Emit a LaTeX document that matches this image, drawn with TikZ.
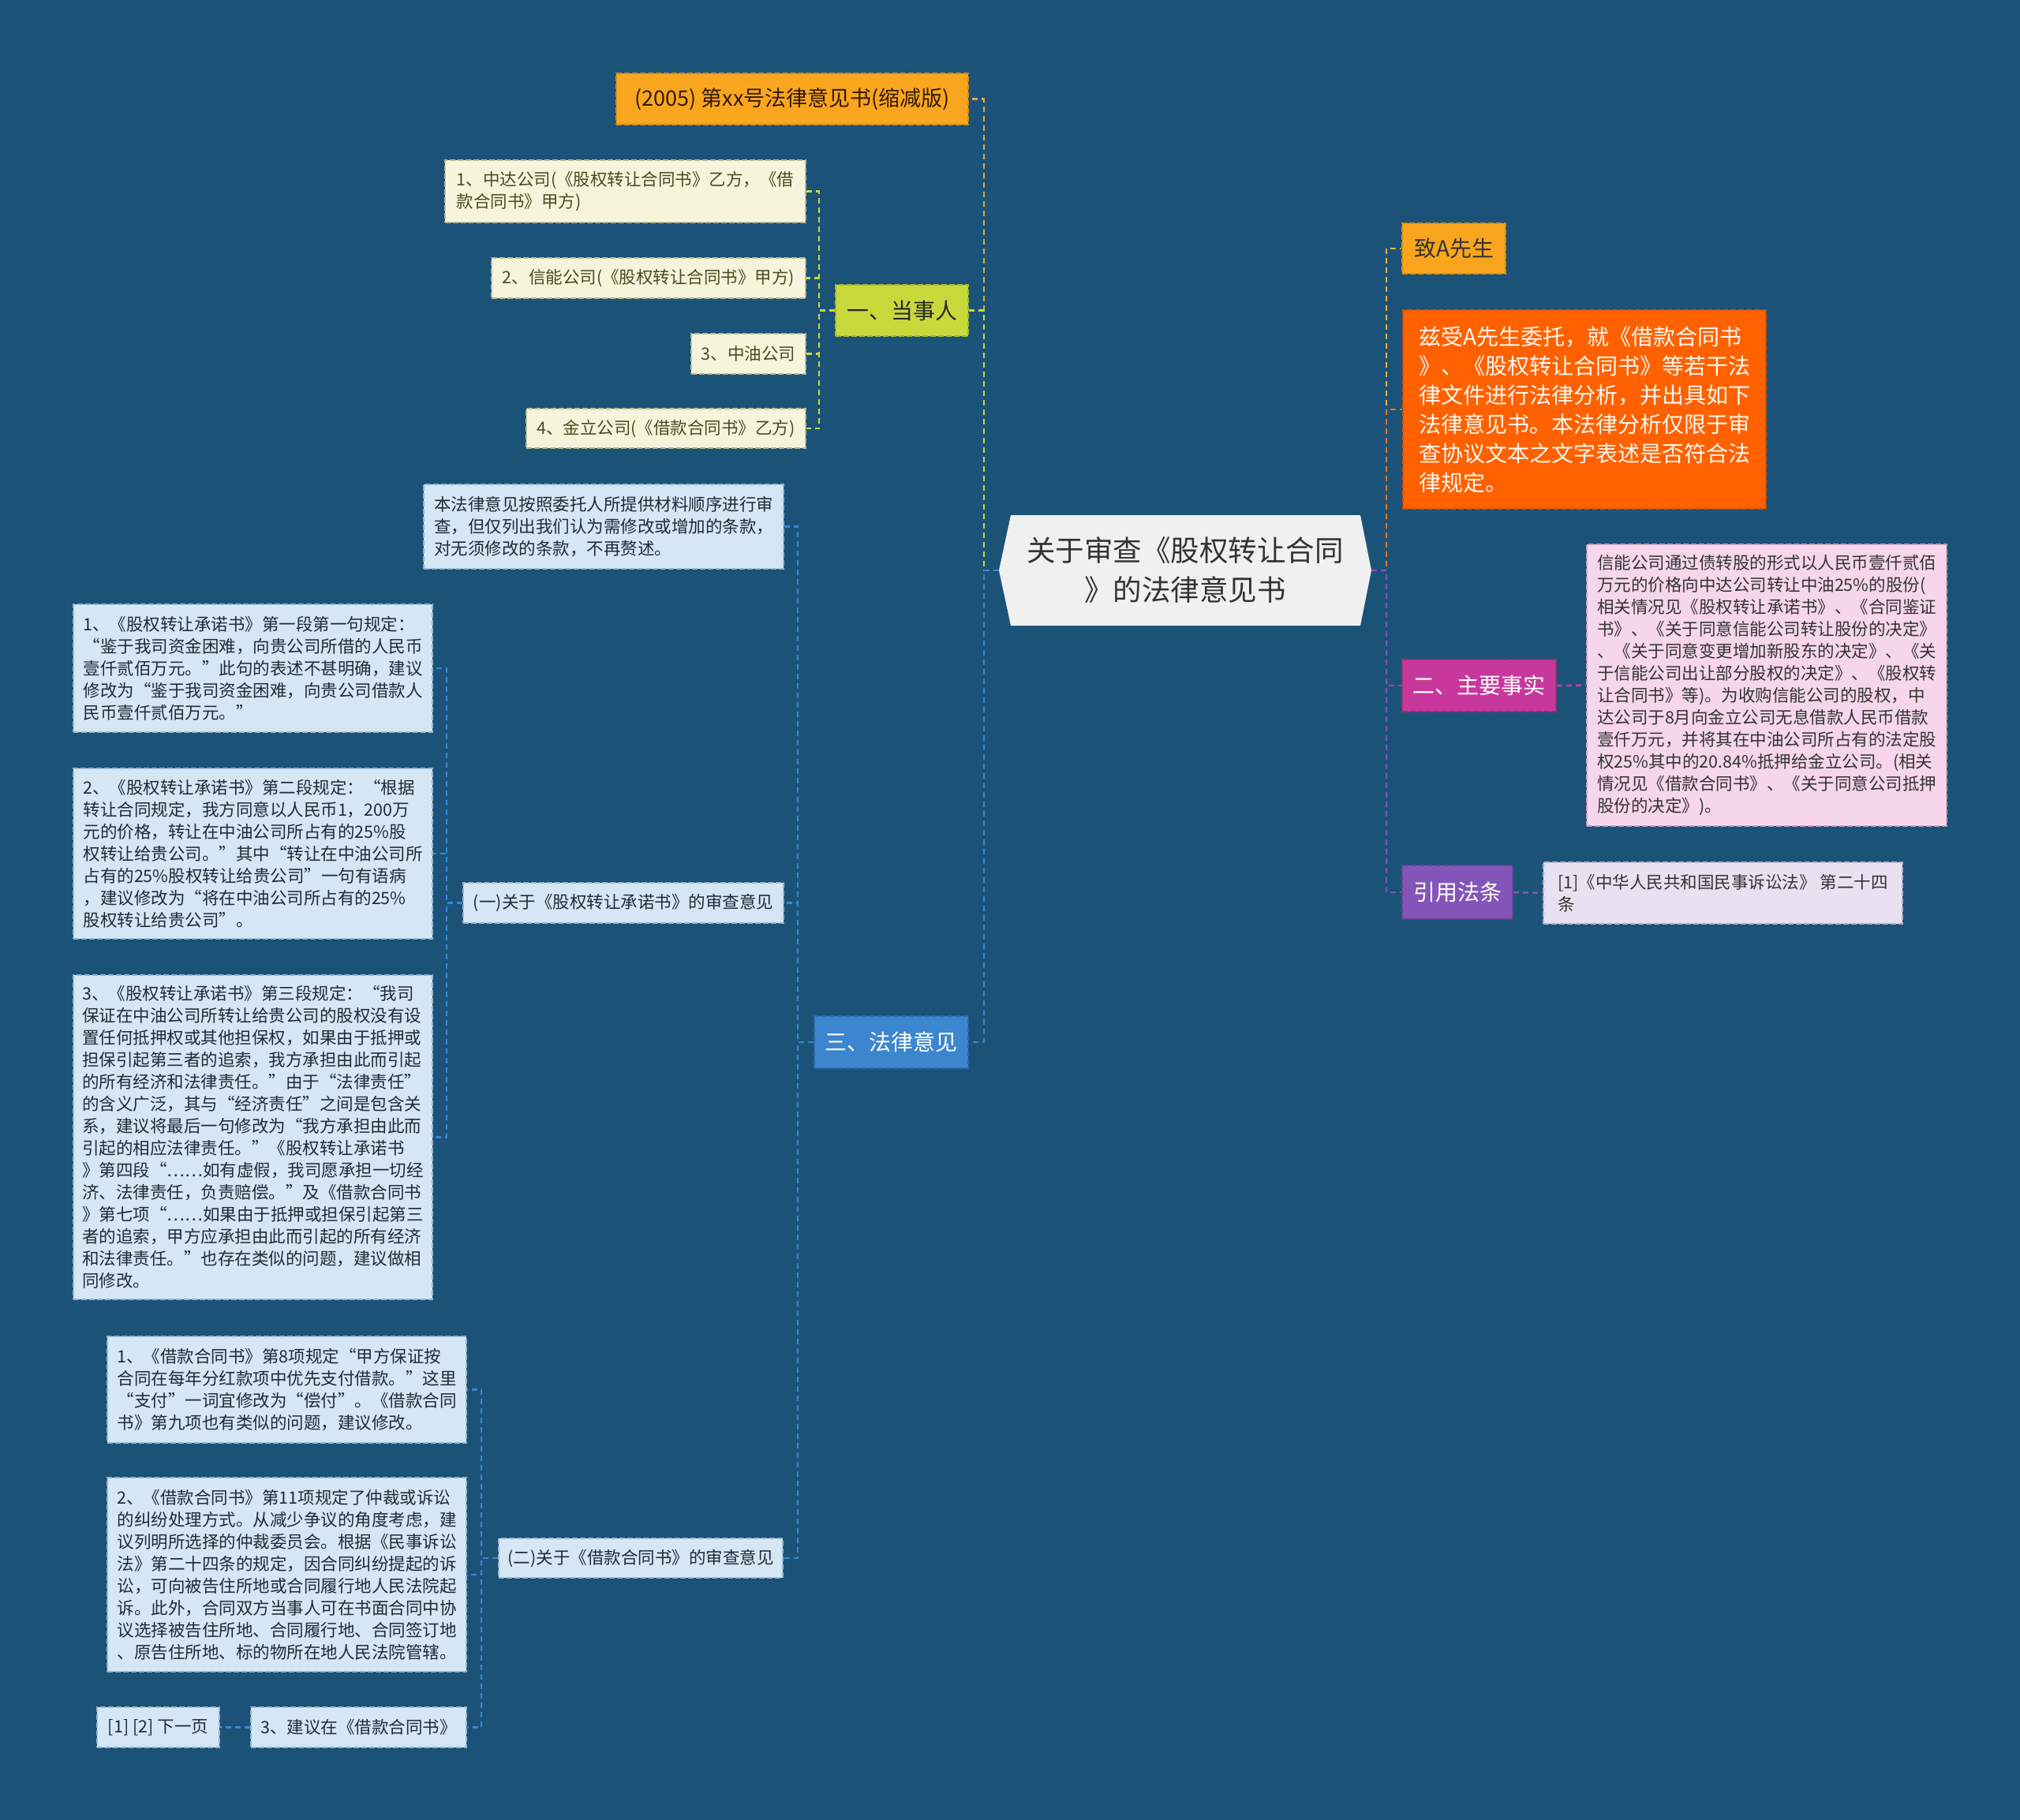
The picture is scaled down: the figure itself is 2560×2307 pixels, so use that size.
\documentclass[tikz,border=0pt]{standalone}
\usepackage{fontspec}
\setmainfont{Noto Sans CJK SC}
\usetikzlibrary{calc}
\pgfdeclarelayer{background}
\pgfsetlayers{background,main}

\definecolor{bg}{HTML}{1B5378}
\definecolor{orA}{HTML}{F9A61E}
\definecolor{orAb}{HTML}{D88A10}
\definecolor{ygr}{HTML}{C9D93B}
\definecolor{ygrb}{HTML}{A8B828}
\definecolor{cream}{HTML}{F6F5DC}
\definecolor{creamb}{HTML}{B8B890}
\definecolor{creamt}{HTML}{4A4A22}
\definecolor{blu}{HTML}{3B86CF}
\definecolor{blub}{HTML}{2A6AAA}
\definecolor{lblu}{HTML}{D5E6F5}
\definecolor{lblub}{HTML}{98B4CE}
\definecolor{lblut}{HTML}{1E2B38}
\definecolor{ctr}{HTML}{F0F0F0}
\definecolor{org}{HTML}{FF6100}
\definecolor{orgb}{HTML}{D84E00}
\definecolor{mag}{HTML}{C8389C}
\definecolor{magb}{HTML}{A02A7C}
\definecolor{pink}{HTML}{F5D6EA}
\definecolor{pinkb}{HTML}{C8A0B8}
\definecolor{pur}{HTML}{8455B8}
\definecolor{purb}{HTML}{6A4098}
\definecolor{lav}{HTML}{E9E1F1}
\definecolor{lavb}{HTML}{B8AAC8}
\definecolor{dtxt}{HTML}{333333}
\definecolor{cTitle}{HTML}{E8A53C}
\definecolor{cOne}{HTML}{C9D93B}
\definecolor{cThree}{HTML}{3B86CF}
\definecolor{cR1}{HTML}{E8B040}
\definecolor{cR2}{HTML}{E87020}
\definecolor{cR3}{HTML}{C8389C}
\definecolor{cR4}{HTML}{8455B8}

\tikzset{
  box/.style={draw, line width=1.8pt, dash pattern=on 7pt off 3pt, inner sep=0pt, align=left, anchor=center},
  small/.style={font=\fontsize{21.5}{28}\selectfont},
  big/.style={font=\fontsize{28}{37}\selectfont},
  conn/.style={line width=2.5pt, dash pattern=on 7pt off 5pt},
}

\begin{document}
\begin{tikzpicture}[x=1pt,y=-1pt]
\begin{pgfonlayer}{background}
\fill[bg] (0,0) rectangle (2560,2307);
\end{pgfonlayer}
\useasboundingbox (0,0) rectangle (2560,2307);

% root
\fill[ctr] (1266,723) -- (1281,653) -- (1724,653) -- (1738,723) -- (1724,793) -- (1281,793) -- cycle;
\node[inner sep=0pt, minimum width=472pt, minimum height=140pt, align=center, text=dtxt,
      font=\fontsize{36.5}{50}\selectfont] (root) at (1502,723) {关于审查《股权转让合同\\》的法律意见书};

% left branch: title
\node[box, fill=orA, draw=orAb, text=black!80!orange, minimum width=446pt, minimum height=65pt,
      font=\fontsize{27}{34}\selectfont] (title) at (1004,125.5) {(2005) 第xx号法律意见书(缩减版)};

% 一、当事人
\node[box, big, fill=ygr, draw=ygrb, text=black!85, minimum width=168pt, minimum height=65pt] (one) at (1143,393.5) {一、当事人};
\node[box, small, fill=cream, draw=creamb, text=creamt, minimum width=457pt, minimum height=79pt] (p1) at (792.5,242.5)
  {1、中达公司(《股权转让合同书》乙方，《借\\款合同书》甲方)};
\node[box, small, fill=cream, draw=creamb, text=creamt, minimum width=398pt, minimum height=51pt] (p2) at (822,352.5)
  {2、信能公司(《股权转让合同书》甲方)};
\node[box, small, fill=cream, draw=creamb, text=creamt, minimum width=145pt, minimum height=51pt] (p3) at (948.5,448.5)
  {3、中油公司};
\node[box, small, fill=cream, draw=creamb, text=creamt, minimum width=354pt, minimum height=50pt] (p4) at (844,543)
  {4、金立公司(《借款合同书》乙方)};

% 三、法律意见
\node[box, big, fill=blu, draw=blub, text=white, minimum width=195pt, minimum height=66pt] (three) at (1129.5,1321) {三、法律意见};
\node[box, small, fill=lblu, draw=lblub, text=lblut, minimum width=456pt, minimum height=107pt] (L1) at (765,667.5)
  {本法律意见按照委托人所提供材料顺序进行审\\查，但仅列出我们认为需修改或增加的条款，\\对无须修改的条款，不再赘述。};
\node[box, small, fill=lblu, draw=lblub, text=lblut, minimum width=406pt, minimum height=51pt] (L2) at (790,1144.5)
  {(一)关于《股权转让承诺书》的审查意见};
\node[box, small, fill=lblu, draw=lblub, text=lblut, minimum width=455pt, minimum height=162pt] (L2a) at (320.5,847)
  {1、《股权转让承诺书》第一段第一句规定：\\
   “鉴于我司资金困难，向贵公司所借的人民币\\
   壹仟贰佰万元。”此句的表述不甚明确，建议\\
   修改为“鉴于我司资金困难，向贵公司借款人\\
   民币壹仟贰佰万元。”};
\node[box, small, fill=lblu, draw=lblub, text=lblut, minimum width=455pt, minimum height=216pt] (L2b) at (320.5,1082)
  {2、《股权转让承诺书》第二段规定：“根据\\
   转让合同规定，我方同意以人民币1，200万\\
   元的价格，转让在中油公司所占有的25\%股\\
   权转让给贵公司。”其中“转让在中油公司所\\
   占有的25\%股权转让给贵公司”一句有语病\\
   ，建议修改为“将在中油公司所占有的25\%\\
   股权转让给贵公司”。};
\node[box, small, fill=lblu, draw=lblub, text=lblut, minimum width=455pt, minimum height=411pt] (L2c) at (320.5,1441.5)
  {3、《股权转让承诺书》第三段规定：“我司\\
   保证在中油公司所转让给贵公司的股权没有设\\
   置任何抵押权或其他担保权，如果由于抵押或\\
   担保引起第三者的追索，我方承担由此而引起\\
   的所有经济和法律责任。”由于“法律责任”\\
   的含义广泛，其与“经济责任”之间是包含关\\
   系，建议将最后一句修改为“我方承担由此而\\
   引起的相应法律责任。”《股权转让承诺书\\
   》第四段“……如有虚假，我司愿承担一切经\\
   济、法律责任，负责赔偿。”及《借款合同书\\
   》第七项“……如果由于抵押或担保引起第三\\
   者的追索，甲方应承担由此而引起的所有经济\\
   和法律责任。”也存在类似的问题，建议做相\\
   同修改。};
\node[box, small, fill=lblu, draw=lblub, text=lblut, minimum width=360pt, minimum height=50pt] (L3) at (812,1975)
  {(二)关于《借款合同书》的审查意见};
\node[box, small, fill=lblu, draw=lblub, text=lblut, minimum width=455pt, minimum height=135pt] (L3a) at (363.5,1761.5)
  {1、《借款合同书》第8项规定“甲方保证按\\
   合同在每年分红款项中优先支付借款。”这里\\
   “支付”一词宜修改为“偿付”。《借款合同\\
   书》第九项也有类似的问题，建议修改。};
\node[box, small, fill=lblu, draw=lblub, text=lblut, minimum width=455pt, minimum height=246pt] (L3b) at (363.5,1996)
  {2、《借款合同书》第11项规定了仲裁或诉讼\\
   的纠纷处理方式。从减少争议的角度考虑，建\\
   议列明所选择的仲裁委员会。根据《民事诉讼\\
   法》第二十四条的规定，因合同纠纷提起的诉\\
   讼，可向被告住所地或合同履行地人民法院起\\
   诉。此外，合同双方当事人可在书面合同中协\\
   议选择被告住所地、合同履行地、合同签订地\\
   、原告住所地、标的物所在地人民法院管辖。};
\node[box, small, fill=lblu, draw=lblub, text=lblut, minimum width=273pt, minimum height=51pt] (L3c) at (454.5,2189.5)
  {3、建议在《借款合同书》};
\node[box, small, fill=lblu, draw=lblub, text=lblut, minimum width=155pt, minimum height=51pt] (L3d) at (200.5,2189.5)
  {[1] [2] 下一页};

% right branches
\node[box, big, fill=orA, draw=orAb, text=dtxt, minimum width=131pt, minimum height=64pt] (r1) at (1842.5,315) {致A先生};
\node[box, big, fill=org, draw=orgb, text=white!95!orange, minimum width=460pt, minimum height=252pt] (r2) at (2008,519)
  {兹受A先生委托，就《借款合同书\\
   》、《股权转让合同书》等若干法\\
   律文件进行法律分析，并出具如下\\
   法律意见书。本法律分析仅限于审\\
   查协议文本之文字表述是否符合法\\
   律规定。};
\node[box, big, fill=mag, draw=magb, text=white, minimum width=195pt, minimum height=66pt] (r3) at (1874.5,869) {二、主要事实};
\node[box, small, fill=pink, draw=pinkb, text=dtxt, minimum width=456pt, minimum height=357pt] (r3a) at (2239,868.5)
  {信能公司通过债转股的形式以人民币壹仟贰佰\\
   万元的价格向中达公司转让中油25\%的股份(\\
   相关情况见《股权转让承诺书》、《合同鉴证\\
   书》、《关于同意信能公司转让股份的决定》\\
   、《关于同意变更增加新股东的决定》、《关\\
   于信能公司出让部分股权的决定》、《股权转\\
   让合同书》等)。为收购信能公司的股权，中\\
   达公司于8月向金立公司无息借款人民币借款\\
   壹仟万元，并将其在中油公司所占有的法定股\\
   权25\%其中的20.84\%抵押给金立公司。(相关\\
   情况见《借款合同书》、《关于同意公司抵押\\
   股份的决定》)。};
\node[box, big, fill=pur, draw=purb, text=white, minimum width=140pt, minimum height=68pt] (r4) at (1847,1131) {引用法条};
\node[box, small, fill=lav, draw=lavb, text=dtxt, minimum width=455pt, minimum height=78pt] (r4a) at (2183.5,1132)
  {[1]《中华人民共和国民事诉讼法》 第二十四\\条};

% connectors
\begin{pgfonlayer}{background}
\draw[conn, cTitle] (root.west) -- ++(-19,0) |- (title.east);
\draw[conn, cOne] (root.west) -- ++(-19,0) |- (one.east);
\draw[conn, cThree] (root.west) -- ++(-19,0) |- (three.east);
\foreach \c in {p1,p2,p3,p4} \draw[conn, cOne] (one.west) -- ++(-20,0) |- (\c.east);
\foreach \c in {L1,L2,L3} \draw[conn, cThree] (three.west) -- ++(-20,0) |- (\c.east);
\foreach \c in {L2a,L2b,L2c} \draw[conn, cThree] (L2.west) -- ++(-20,0) |- (\c.east);
\foreach \c in {L3a,L3b,L3c} \draw[conn, cThree] (L3.west) -- ++(-21,0) |- (\c.east);
\draw[conn, cThree] (L3c.west) -- (L3d.east);
\draw[conn, cR1] (root.east) -- ++(19,0) |- (r1.west);
\draw[conn, cR2] (root.east) -- ++(19,0) |- (r2.west);
\draw[conn, cR3] (root.east) -- ++(19,0) |- (r3.west);
\draw[conn, cR4] (root.east) -- ++(19,0) |- (r4.west);
\draw[conn, cR3] (r3.east) -- (r3a.west);
\draw[conn, cR4] (r4.east) -- (r4a.west);
\end{pgfonlayer}
\end{tikzpicture}
\end{document}
